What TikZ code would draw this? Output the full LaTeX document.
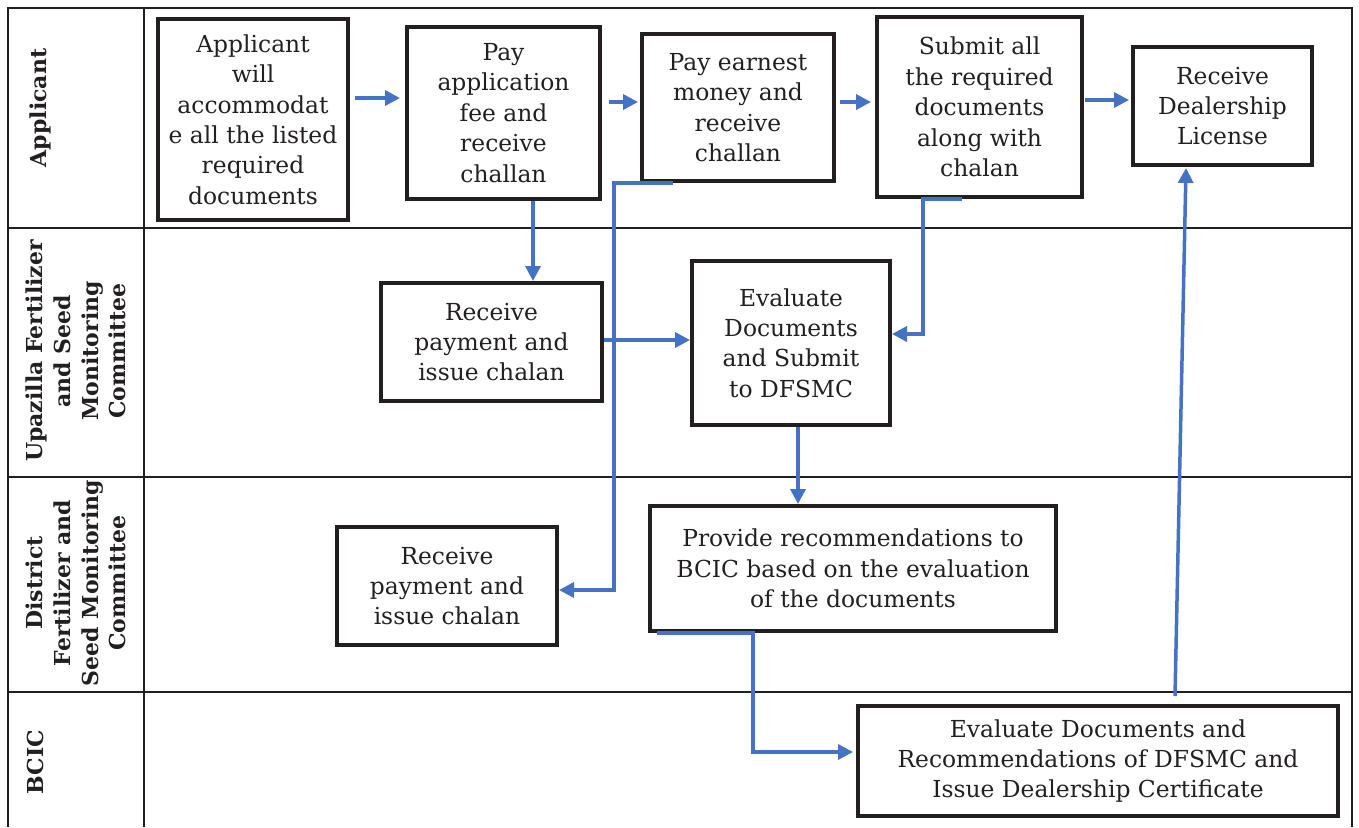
\documentclass[tikz,border=0pt]{standalone}
\usepackage{fontspec}
\setmainfont{DejaVu Serif}
\usetikzlibrary{arrows.meta}
\definecolor{flowblue}{HTML}{4472C4}
\definecolor{ink}{HTML}{231F20}

\begin{document}
\begin{tikzpicture}[x=1pt, y=-1pt,
    task/.style={draw=ink, line width=4pt, align=center, inner sep=0pt, text=ink,
        font=\fontsize{23.4}{30.4}\selectfont},
    lane/.style={rotate=90, align=center, text=ink, inner sep=0pt,
        font=\fontsize{22}{27.7}\selectfont\bfseries},
    flow/.style={draw=flowblue, line width=3.5pt, -{Triangle[length=15pt,width=15pt]}},
    tableline/.style={draw=ink, line width=2pt}]
    \useasboundingbox (0,0) rectangle (1359,827);
    \draw[tableline] (8,827) -- (8,8) -- (1352,8) -- (1352,827);
    \draw[tableline] (144,8) -- (144,827);
    \foreach \y in {228,477,692} \draw[tableline] (8,\y) -- (1352,\y);
    \node[lane] (lapp) at (40,108) {Applicant};
    \node[lane] (lupa) at (76,351) {Upazilla Fertilizer\\and Seed\\Monitoring\\Committee};
    \node[lane] (ldis) at (76,583) {District\\Fertilizer and\\Seed Monitoring\\Committee};
    \node[lane] (lbcic) at (35,762) {BCIC};
    \node[task, minimum width=190pt, minimum height=201pt] (gather) at (253,119.5)
        {Applicant\\will\\accommodat\\e all the listed\\required\\documents};
    \node[task, minimum width=193pt, minimum height=172pt] (payfee) at (503.5,113)
        {Pay\\application\\fee and\\receive\\challan};
    \node[task, minimum width=192pt, minimum height=147pt] (earnest) at (738,107.5)
        {Pay earnest\\money and\\receive\\challan};
    \node[task, minimum width=205pt, minimum height=180pt] (docs) at (979.5,107)
        {Submit all\\the required\\documents\\along with\\chalan};
    \node[task, minimum width=179pt, minimum height=118pt] (license) at (1222.5,106)
        {Receive\\Dealership\\License};
    \node[task, minimum width=221pt, minimum height=118pt] (upaRecv) at (491.5,342)
        {Receive\\payment and\\issue chalan};
    \node[task, minimum width=198pt, minimum height=164pt] (upaEval) at (791,343)
        {Evaluate\\Documents\\and Submit\\to DFSMC};
    \node[task, minimum width=220pt, minimum height=118pt] (disRecv) at (447,586)
        {Receive\\payment and\\issue chalan};
    \node[task, minimum width=406pt, minimum height=125pt] (recommend) at (853,568.5)
        {Provide recommendations to\\BCIC based on the evaluation\\of the documents};
    \node[task, minimum width=480pt, minimum height=110pt] (bcicEval) at (1098,761)
        {Evaluate Documents and\\Recommendations of DFSMC and\\Issue Dealership Certificate};
    \draw[flow] ([xshift=5pt,yshift=21.5pt]gather.east) -- ([xshift=-5pt,yshift=15pt]payfee.west);
    \draw[flow] ([xshift=7pt,yshift=11pt]payfee.east) -- ([xshift=-2pt,yshift=5.5pt]earnest.west);
    \draw[flow] ([xshift=4pt,yshift=5.5pt]earnest.east) -- ([xshift=-4pt,yshift=5pt]docs.west);
    \draw[flow] ([xshift=1pt,yshift=7pt]docs.east) -- ([xshift=-2pt,yshift=6pt]license.west);
    \draw[flow] ([xshift=29.5pt]payfee.south) -- ([xshift=41.5pt]upaRecv.north);
    \draw[flow] ([yshift=2pt]upaRecv.east) -- ([yshift=3pt]upaEval.west);
    \draw[flow] ([xshift=-17.5pt]docs.south) -- ([xshift=-56.5pt]docs.south) |- ([yshift=9pt]upaEval.east);
    \draw[flow] ([xshift=-65pt]earnest.south) -- ([xshift=-124pt]earnest.south) |- ([yshift=-4pt]disRecv.east);
    \draw[flow] ([xshift=7pt]upaEval.south) -- ([xshift=-55pt]recommend.north);
    \draw[flow] ([xshift=-196pt]recommend.south) -- ([xshift=-100pt]recommend.south) |- ([xshift=-3pt,yshift=9pt]bcicEval.west);
    \draw[flow] ([xshift=77pt,yshift=8pt]bcicEval.north) -- ([xshift=-36.5pt,yshift=-1pt]license.south);
\end{tikzpicture}
\end{document}
